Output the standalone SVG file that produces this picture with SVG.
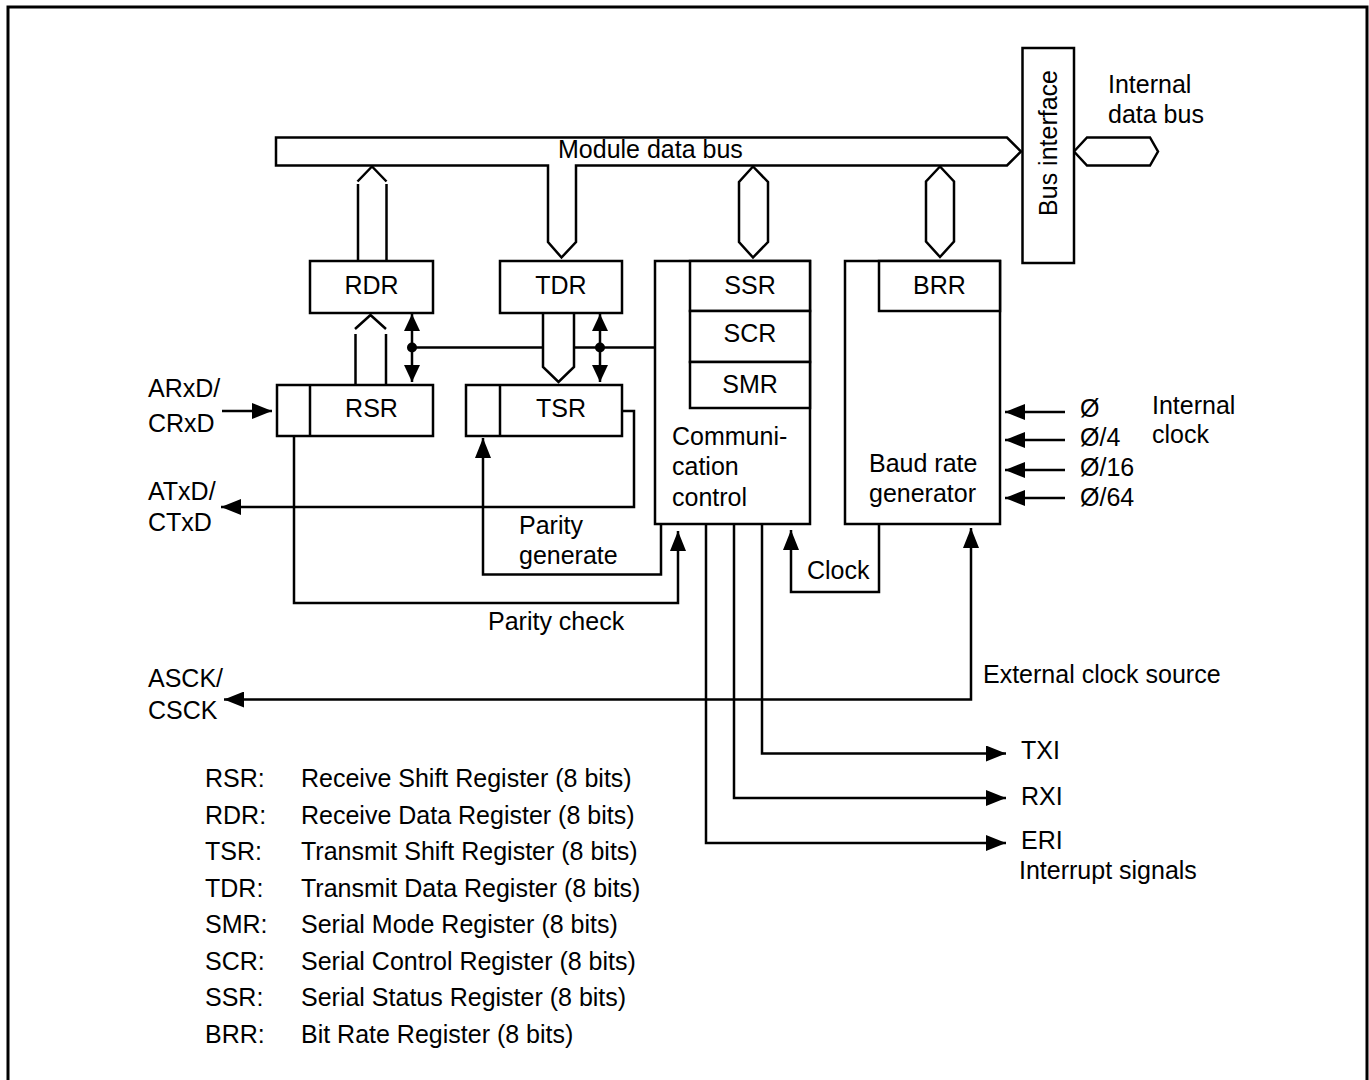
<svg xmlns="http://www.w3.org/2000/svg" width="1369" height="1080" viewBox="0 0 1369 1080">
<style>
text{font-family:"Liberation Sans",Arial,sans-serif;font-size:25px;fill:#000}
.b{fill:#fff;stroke:#000;stroke-width:2.5}
.w{fill:none;stroke:#000;stroke-width:2.5}
.m{text-anchor:middle}
.a{marker-end:url(#ah)}
</style>
<defs>
<marker id="ah" markerUnits="userSpaceOnUse" viewBox="0 0 20 16" markerWidth="20" markerHeight="16" refX="20" refY="8" orient="auto-start-reverse"><path d="M0,0 L20,8 L0,16 Z" fill="#000"/></marker>
<marker id="as" markerUnits="userSpaceOnUse" viewBox="0 0 17 16" markerWidth="17" markerHeight="16" refX="17" refY="8" orient="auto-start-reverse"><path d="M0,0 L17,8 L0,16 Z" fill="#000"/></marker>
</defs>
<rect x="0" y="0" width="1369" height="1080" fill="#fff"/>
<path d="M8,1090 V7 H1367 V1090" fill="none" stroke="#000" stroke-width="3"/>

<g id="connectors">
  <!-- RDR to module bus -->
  <polyline class="w" points="357.5,181.5 372,166.5 386.5,181.5"/>
  <path class="w" d="M358,184 V261 M386.5,184 V261"/>
  <!-- Comm control bidirectional -->
  <path class="b" d="M753,166.5 L739,182 V242 L753,257.5 L768,242 V182 Z"/>
  <!-- BRR bidirectional -->
  <path class="b" d="M940,166.5 L926,181.5 V241.5 L940,257 L954,241.5 V181.5 Z"/>
  <!-- internal data bus -->
  <path class="b" d="M1074,151.5 L1087,137.5 H1150 L1158,151.5 L1150,165.5 H1087 Z"/>
  <!-- RSR to RDR -->
  <polyline class="w" points="355,329 370.5,315 386,329"/>
  <path class="w" d="M355.5,334 V385 M386,334 V385"/>
  <!-- TDR to TSR -->
  <path class="w" d="M543,313 V367 L558.5,382 L574,367 V313"/>
  <!-- control line -->
  <path class="w" d="M412,347.5 H543 M574,347.5 H655"/>
  <circle cx="412" cy="347.5" r="5"/>
  <circle cx="600" cy="347.5" r="5"/>
  <line class="w" x1="412" y1="347.5" x2="412" y2="314" marker-end="url(#as)"/>
  <line class="w" x1="412" y1="347.5" x2="412" y2="382" marker-end="url(#as)"/>
  <line class="w" x1="600" y1="347.5" x2="600" y2="314" marker-end="url(#as)"/>
  <line class="w" x1="600" y1="347.5" x2="600" y2="382" marker-end="url(#as)"/>
  <!-- RxD input -->
  <line class="w a" x1="222" y1="411" x2="272" y2="411"/>
  <!-- TxD output -->
  <polyline class="w a" points="622,411 634,411 634,507 221,507"/>
  <!-- parity generate -->
  <polyline class="w a" points="661,524 661,574.5 483,574.5 483,438"/>
  <!-- parity check -->
  <polyline class="w a" points="294,436 294,603 678,603 678,531"/>
  <!-- clock -->
  <polyline class="w a" points="879,524 879,592 791,592 791,530"/>
  <!-- external clock / ASCK -->
  <polyline class="w" points="224,699.5 971,699.5 971,528" marker-start="url(#ah)" marker-end="url(#ah)"/>
  <!-- interrupts -->
  <polyline class="w a" points="762,524 762,753.5 1006,753.5"/>
  <polyline class="w a" points="734,524 734,798 1006,798"/>
  <polyline class="w a" points="706,524 706,843 1006,843"/>
  <!-- internal clock inputs -->
  <line class="w a" x1="1065" y1="412" x2="1005" y2="412"/>
  <line class="w a" x1="1065" y1="440" x2="1005" y2="440"/>
  <line class="w a" x1="1065" y1="470" x2="1005" y2="470"/>
  <line class="w a" x1="1065" y1="498" x2="1005" y2="498"/>
</g>

<g id="module-data-bus">
  <path class="b" d="M276,137.5 H1007 L1021,151.5 L1007,165.5 H576 V242 L561.5,257.5 L548,242 V165.5 H276 Z"/>
  <text x="558" y="158">Module data bus</text>
</g>

<g id="bus-interface">
  <rect class="b" x="1022.5" y="48" width="51.5" height="215"/>
  <text class="m" transform="translate(1057,143) rotate(-90)">Bus interface</text>
</g>

<g id="internal-data-bus-label">
  <text x="1108" y="93">Internal</text>
  <text x="1108" y="123">data bus</text>
</g>

<g id="rdr"><rect class="b" x="310" y="261" width="123" height="52"/><text class="m" x="371.5" y="293.5">RDR</text></g>
<g id="tdr"><rect class="b" x="500" y="261" width="122" height="52"/><text class="m" x="561" y="293.5">TDR</text></g>
<g id="rsr"><rect class="b" x="277" y="385" width="156" height="51"/><line class="w" x1="310" y1="385" x2="310" y2="436"/><text class="m" x="371.5" y="417">RSR</text></g>
<g id="tsr"><rect class="b" x="466" y="385" width="156" height="51"/><line class="w" x1="500" y1="385" x2="500" y2="436"/><text class="m" x="561" y="417">TSR</text></g>

<g id="communication-control">
  <rect class="b" x="655" y="261" width="155" height="263"/>
  <rect class="b" x="690" y="261" width="120" height="50"/>
  <rect class="b" x="690" y="311" width="120" height="51"/>
  <rect class="b" x="690" y="362" width="120" height="46"/>
  <text class="m" x="750" y="293.5">SSR</text>
  <text class="m" x="750" y="342">SCR</text>
  <text class="m" x="750" y="393">SMR</text>
  <text x="672" y="444.5">Communi-</text>
  <text x="672" y="475">cation</text>
  <text x="672" y="505.5">control</text>
</g>

<g id="baud-rate-generator">
  <rect class="b" x="845" y="261" width="155" height="263"/>
  <rect class="b" x="879" y="261" width="121" height="50"/>
  <text class="m" x="939.5" y="293.5">BRR</text>
  <text x="869" y="472">Baud rate</text>
  <text x="869" y="502">generator</text>
</g>

<g id="labels">
  <text x="148" y="397">ARxD/</text>
  <text x="148" y="432">CRxD</text>
  <text x="148" y="500">ATxD/</text>
  <text x="148" y="531">CTxD</text>
  <text x="519" y="533.5">Parity</text>
  <text x="519" y="564">generate</text>
  <text x="488" y="629.5">Parity check</text>
  <text x="807" y="578.5">Clock</text>
  <text x="1080" y="417">Ø</text>
  <text x="1080" y="446">Ø/4</text>
  <text x="1080" y="476">Ø/16</text>
  <text x="1080" y="506">Ø/64</text>
  <text x="1152" y="413.5">Internal</text>
  <text x="1152" y="443">clock</text>
  <text x="983" y="683">External clock source</text>
  <text x="148" y="687">ASCK/</text>
  <text x="148" y="718.5">CSCK</text>
  <text x="1021" y="758.5">TXI</text>
  <text x="1021" y="805">RXI</text>
  <text x="1021" y="848.5">ERI</text>
  <text x="1019" y="879">Interrupt signals</text>
</g>

<g id="legend">
  <text x="205" y="787">RSR:</text><text x="301" y="787">Receive Shift Register (8 bits)</text>
  <text x="205" y="823.5">RDR:</text><text x="301" y="823.5">Receive Data Register (8 bits)</text>
  <text x="205" y="860">TSR:</text><text x="301" y="860">Transmit Shift Register (8 bits)</text>
  <text x="205" y="896.5">TDR:</text><text x="301" y="896.5">Transmit Data Register (8 bits)</text>
  <text x="205" y="933">SMR:</text><text x="301" y="933">Serial Mode Register (8 bits)</text>
  <text x="205" y="970">SCR:</text><text x="301" y="970">Serial Control Register (8 bits)</text>
  <text x="205" y="1006">SSR:</text><text x="301" y="1006">Serial Status Register (8 bits)</text>
  <text x="205" y="1042.5">BRR:</text><text x="301" y="1042.5">Bit Rate Register (8 bits)</text>
</g>
</svg>
